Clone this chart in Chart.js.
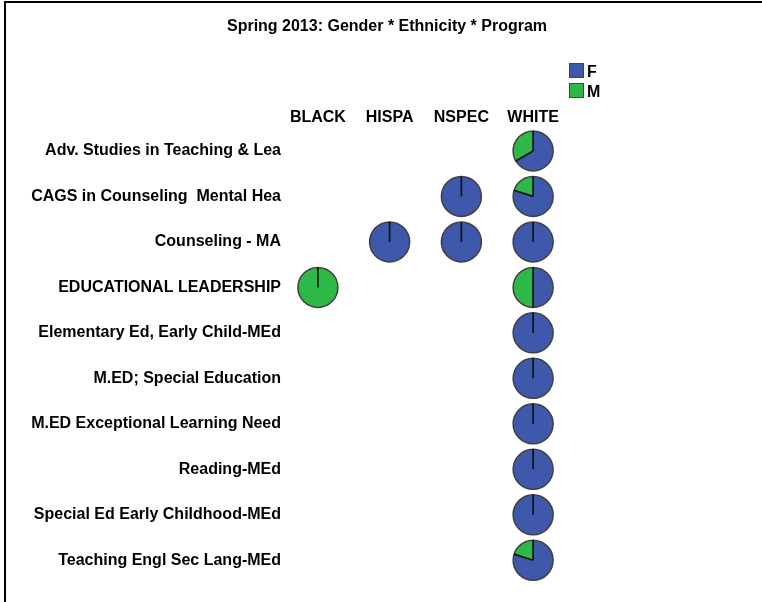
<!DOCTYPE html>
<html>
<head>
<meta charset="utf-8">
<script src="https://cdn.jsdelivr.net/npm/chart.js@4.4.1/dist/chart.umd.min.js"></script>
<style>
  html, body { margin: 0; padding: 0; background: #fff; overflow: hidden; }
  #wrap { position: relative; width: 762px; height: 602px; }
  #frame { position: absolute; left: 4px; top: 1px; right: 0; bottom: 0; border-top: 2px solid #000; border-left: 2px solid #000; pointer-events: none; }
  .key { position: absolute; left: 569px; font: bold 16px "Liberation Sans", Arial, sans-serif; color: #000; }
  .key span { display: inline-block; width: 13px; height: 13px; border: 1px solid #444; vertical-align: top; margin-right: 3px; }
</style>
</head>
<body>
<div id="wrap">
  <canvas id="pieGrid"></canvas>
  <div id="frame"></div>
  <div class="key" style="top:63px"><span style="background:#3e58ac"></span>F</div>
  <div class="key" style="top:83px"><span style="background:#2eb848"></span>M</div>
</div>
<script>
const ethnicities = ['BLACK', 'HISPA', 'NSPEC', 'WHITE'];
const programs = [
    'Adv. Studies in Teaching & Lea',
    'CAGS in Counseling  Mental Hea',
    'Counseling - MA',
    'EDUCATIONAL LEADERSHIP',
    'Elementary Ed, Early Child-MEd',
    'M.ED; Special Education',
    'M.ED Exceptional Learning Need',
    'Reading-MEd',
    'Special Ed Early Childhood-MEd',
    'Teaching Engl Sec Lang-MEd'
];

// one entry per pie: program, ethnicity, female count, male count
const cellProgram = [programs[0], programs[1], programs[1], programs[2], programs[2], programs[2],
    programs[3], programs[3], programs[4], programs[5], programs[6], programs[7], programs[8], programs[9]];
const cellEthnicity = ['WHITE', 'NSPEC', 'WHITE', 'HISPA', 'NSPEC', 'WHITE',
    'BLACK', 'WHITE', 'WHITE', 'WHITE', 'WHITE', 'WHITE', 'WHITE', 'WHITE'];
const femaleCount = [2, 1, 4, 1, 1, 1, 0, 1, 1, 1, 1, 1, 1, 4];
const maleCount   = [1, 0, 1, 0, 0, 0, 1, 1, 0, 0, 0, 0, 0, 1];

const genderColors = ['#3e58ac', '#2eb848'];
const FONT = '"Liberation Sans", Arial, sans-serif';

const cells = cellProgram.map((p, i) => ({ x: cellEthnicity[i], y: p, f: femaleCount[i], m: maleCount[i] }));

const piePlugin = {
    id: 'pies',
    afterDatasetsDraw(chart) {
        const ctx = chart.ctx;
        const meta = chart.getDatasetMeta(0);
        const r = 20;
        meta.data.forEach((pt, i) => {
            const c = cells[i];
            const parts = [c.f, c.m];
            const total = c.f + c.m;
            let a = -Math.PI / 2;
            ctx.save();
            parts.forEach((v, k) => {
                if (!v) return;
                const b = a + v / total * Math.PI * 2;
                ctx.beginPath();
                ctx.moveTo(pt.x, pt.y);
                ctx.arc(pt.x, pt.y, r, a, b);
                ctx.closePath();
                ctx.fillStyle = genderColors[k];
                ctx.fill();
                a = b;
            });
            // outline
            ctx.beginPath();
            ctx.arc(pt.x, pt.y, r, 0, Math.PI * 2);
            ctx.strokeStyle = '#404040';
            ctx.lineWidth = 1.5;
            ctx.stroke();
            // slice borders
            a = -Math.PI / 2;
            ctx.strokeStyle = '#111';
            ctx.lineWidth = 1.7;
            ctx.beginPath();
            ctx.moveTo(pt.x, pt.y);
            ctx.lineTo(pt.x + r * Math.cos(a), pt.y + r * Math.sin(a));
            if (c.f && c.m) {
                const b = a + c.f / total * Math.PI * 2;
                ctx.moveTo(pt.x, pt.y);
                ctx.lineTo(pt.x + r * Math.cos(b), pt.y + r * Math.sin(b));
            }
            ctx.stroke();
            ctx.restore();
        });
    }
};

new Chart(document.getElementById('pieGrid'), {
    type: 'scatter',
    data: {
        datasets: [{ data: cells, pointRadius: 0, pointHoverRadius: 0 }]
    },
    plugins: [piePlugin],
    options: {
        responsive: true,
        maintainAspectRatio: false,
        animation: false,
        events: [],
        layout: { padding: { left: 12, right: 0, top: 0, bottom: 19 } },
        scales: {
            x: {
                type: 'category',
                labels: ethnicities,
                position: 'top',
                offset: true,
                grid: { display: false, drawTicks: false },
                border: { display: false },
                ticks: { color: '#000', padding: 1, autoSkip: false, maxRotation: 0, font: { family: FONT, size: 16, weight: 'bold' } },
                afterFit(s) { s.height = 92; }
            },
            y: {
                type: 'category',
                labels: programs,
                offset: true,
                grid: { display: false, drawTicks: false },
                border: { display: false },
                ticks: { color: '#000', padding: 1, autoSkip: false, font: { family: FONT, size: 16, weight: 'bold' } },
                afterFit(s) { s.width = 270; }
            },
            // empty right-hand margin that keeps the legend area clear
            yRight: {
                type: 'category',
                labels: programs,
                position: 'right',
                grid: { display: false, drawTicks: false },
                border: { display: false },
                ticks: { display: false },
                afterFit(s) { s.width = 193; }
            }
        },
        plugins: {
            legend: { display: false },
            tooltip: { enabled: false },
            title: {
                display: true,
                text: 'Spring 2013: Gender * Ethnicity * Program',
                color: '#000',
                font: { family: FONT, size: 16, weight: 'bold' },
                padding: { top: 17, bottom: 0 }
            }
        }
    }
});
</script>
</body>
</html>
